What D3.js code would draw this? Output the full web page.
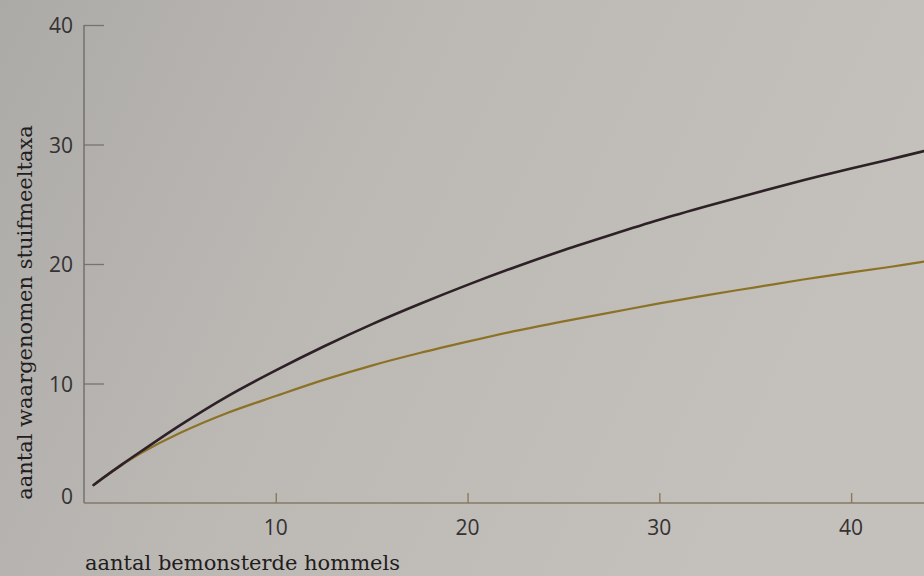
<!DOCTYPE html>
<html>
<head>
<meta charset="utf-8">
<script src="https://cdn.jsdelivr.net/npm/d3@7"></script>
<style>
  html, body { margin: 0; padding: 0; background: #bebbb7; }
  svg { display: block; }
</style>
</head>
<body>
<svg id="chart" width="924" height="576"></svg>
<script>
// Accumulation curves: number of observed pollen taxa vs. number of sampled bumblebees
const bees = [0.5, 1, 2, 3, 5, 7.5, 10, 12.5, 15, 17.5, 20, 22.5, 25, 27.5, 30, 32.5, 35, 37.5, 40, 42, 43.8];
const taxaUpper = [1.5, 2.1, 3.25, 4.35, 6.5, 8.95, 11.1, 13.1, 14.95, 16.65, 18.25, 19.75, 21.15, 22.45, 23.7, 24.85, 25.95, 27.0, 28.0, 28.75, 29.45];
const taxaLower = [1.5, 2.1, 3.2, 4.2, 5.85, 7.55, 8.95, 10.3, 11.5, 12.55, 13.5, 14.4, 15.2, 15.95, 16.7, 17.4, 18.05, 18.7, 19.3, 19.75, 20.2];
const xTicks = [10, 20, 30, 40];
const yTicks = [0, 10, 20, 30, 40];
const xTitle = "aantal bemonsterde hommels";
const yTitle = "aantal waargenomen stuifmeeltaxa";

const svg = d3.select("#chart");
const W = 924, H = 576;

// soft paper-like background
const defs = svg.append("defs");
const grad = defs.append("linearGradient").attr("id", "bg")
  .attr("x1", "0").attr("y1", "0").attr("x2", "1").attr("y2", "0.3");
grad.append("stop").attr("offset", "0").attr("stop-color", "#acaaa7");
grad.append("stop").attr("offset", "0.45").attr("stop-color", "#bcb9b5");
grad.append("stop").attr("offset", "1").attr("stop-color", "#c4c0bb");
svg.append("rect").attr("width", W).attr("height", H).attr("fill", "url(#bg)");

const x = d3.scaleLinear().domain([0, 43.8]).range([84, 924]);
const y = d3.scaleLinear().domain([0, 40]).range([503, 25]);

const tickFont = "'Open Sans', 'Noto Sans', sans-serif";
const titleFont = "'DejaVu Serif', serif";

// y axis: inward ticks
const yAxis = svg.append("g").attr("transform", `translate(${x(0)},0)`)
  .call(d3.axisRight(y).tickValues(yTicks.slice(1)).tickSize(20).tickFormat(""));
yAxis.select(".domain").remove();
yAxis.selectAll(".tick line").attr("stroke", "#77746f").attr("stroke-width", 1.3);
svg.append("line").attr("x1", x(0)).attr("x2", x(0)).attr("y1", y(40)).attr("y2", y(0))
  .attr("stroke", "#6f6c6c").attr("stroke-width", 1.4);

svg.append("g").selectAll("text").data(yTicks).join("text")
  .attr("x", 73).attr("y", d => y(d) + (d === 0 ? 1 : 8))
  .attr("text-anchor", "end")
  .attr("font-family", tickFont)
  .attr("font-size", 21).attr("fill", "#343232")
  .text(d => d);

// x axis: ticks pointing up into the plot
const xAxis = svg.append("g").attr("transform", `translate(0,${y(0)})`)
  .call(d3.axisTop(x).tickValues(xTicks).tickSize(10).tickFormat(""));
xAxis.select(".domain").remove();
xAxis.selectAll(".tick line").attr("stroke", "#8a7a5c").attr("stroke-width", 1.4);
svg.append("line").attr("x1", x(0)).attr("x2", W).attr("y1", y(0)).attr("y2", y(0))
  .attr("stroke", "#857a66").attr("stroke-width", 1.5);

svg.append("g").selectAll("text").data(xTicks).join("text")
  .attr("x", d => x(d)).attr("y", 535)
  .attr("text-anchor", "middle")
  .attr("font-family", tickFont)
  .attr("font-size", 21).attr("fill", "#343232")
  .text(d => d);

// axis titles
svg.append("text").attr("x", 85).attr("y", 570)
  .attr("font-family", titleFont).attr("font-size", 21)
  .attr("fill", "#1f1d1d").text(xTitle);

svg.append("text")
  .attr("transform", `translate(32,${(125 + 500) / 2}) rotate(-90)`)
  .attr("text-anchor", "middle")
  .attr("font-family", titleFont).attr("font-size", 21)
  .attr("fill", "#1f1d1d").text(yTitle);

// curves
const line = d3.line().x(d => x(d[0])).y(d => y(d[1])).curve(d3.curveCatmullRom.alpha(0.5));
svg.append("path").datum(bees.map((b, i) => [b, taxaLower[i]]))
  .attr("d", line).attr("fill", "none")
  .attr("stroke", "#8c7226").attr("stroke-width", 2.2).attr("stroke-linecap", "round");
svg.append("path").datum(bees.map((b, i) => [b, taxaUpper[i]]))
  .attr("d", line).attr("fill", "none")
  .attr("stroke", "#2d2127").attr("stroke-width", 2.6).attr("stroke-linecap", "round");
</script>
</body>
</html>
